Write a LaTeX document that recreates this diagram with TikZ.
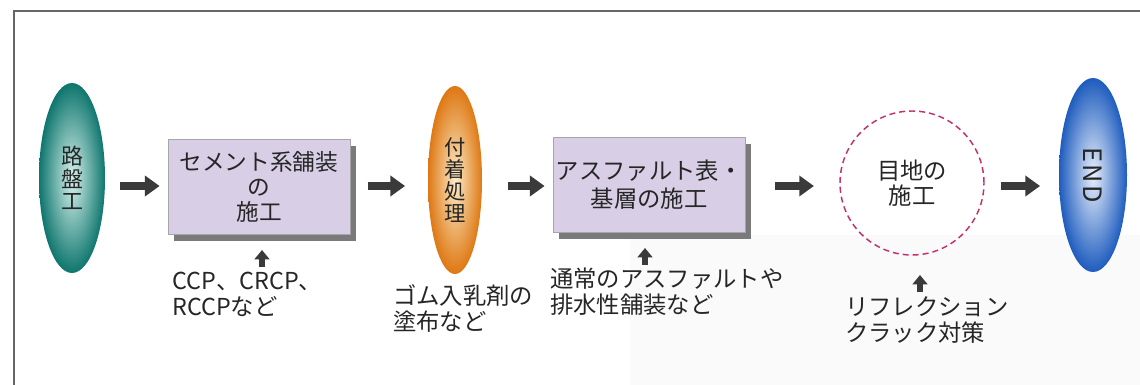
\documentclass[tikz,border=0pt]{standalone}
\usepackage{fontspec}
\setmainfont{Noto Sans CJK JP}
\usetikzlibrary{shapes.geometric,arrows.meta}
\definecolor{arrowgray}{HTML}{3A3A3A}
\definecolor{boxfill}{HTML}{D8CFE6}
\definecolor{boxshadow}{HTML}{7A7A7A}
\definecolor{dashpink}{HTML}{C2306E}
\tikzset{
  capsule/.style={ellipse, draw=none, inner sep=0pt, align=center, text=black!85},
  procbox/.style={rectangle, draw=gray!70, line width=0.6pt, fill=boxfill, align=center, inner sep=0pt, text=black!85},
  bigarrow/.style={draw=arrowgray, line width=6pt, -{Triangle[length=11pt,width=15pt]}},
  smallarrow/.style={draw=arrowgray, line width=4pt, -{Triangle[length=7pt,width=11pt]}},
  note/.style={align=left, inner sep=0pt, anchor=north west, font=\fontsize{17.5}{19.5}\selectfont, text=black!85},
}
\begin{document}
\begin{tikzpicture}[x=0.75pt,y=-0.75pt]
\useasboundingbox (0,0) rectangle (1140,385);
\fill[white] (0,0) rectangle (1140,385);
\fill[black!2] (630,235) rectangle (1140,385);
% frame
\draw[gray!80!black, line width=1.2pt] (14,385) -- (14,11) -- (1140,11);
% capsules
\node[capsule, minimum width=49.5pt, minimum height=142.5pt, shade, inner color={rgb,255:red,215;green,242;blue,236}, outer color={rgb,255:red,14;green,118;blue,110}, font=\fontsize{16.5}{17}\selectfont] (e1) at (72,178) {路\\盤\\工};
\node[capsule, minimum width=40.5pt, minimum height=141pt, shade, inner color={rgb,255:red,253;green,236;blue,200}, outer color={rgb,255:red,222;green,120;blue,20}, font=\fontsize{16}{16.5}\selectfont] (e2) at (455,180) {付\\着\\処\\理};
\node[capsule, minimum width=51pt, minimum height=145.5pt, shade, inner color={rgb,255:red,232;green,240;blue,252}, outer color={rgb,255:red,30;green,92;blue,190}] (e3) at (1093,175) {};
\node[rotate=-90, font=\fontsize{19}{19}\selectfont, text=black!85] (endtxt) at (e3.center) {E\kern2pt N\kern2pt D};
% boxes with shadows
\fill[boxshadow] (174,146) rectangle (356,241);
\node[procbox, minimum width=136.5pt, minimum height=71.25pt, font=\fontsize{17}{18.5}\selectfont] (b1) at (259,187) {セメント系舗装\\の\\施工};
\fill[boxshadow] (559,144) rectangle (751,239);
\node[procbox, minimum width=144pt, minimum height=71.25pt, font=\fontsize{17.5}{21}\selectfont] (b2) at (649,185) {アスファルト表・\\基層の施工};
% dashed circle
\node[circle, draw=dashpink, dashed, dash pattern=on 4.5pt off 3pt, line width=1.1pt, minimum size=108pt, align=center, inner sep=0pt, text=black!85, font=\fontsize{17.5}{19}\selectfont] (c1) at (912,183) {目地の\\施工};
% horizontal arrows
\draw[bigarrow, shorten <=11pt, shorten >=6pt] (e1.east |- 0,186) -- (b1.west |- 0,186);
\draw[bigarrow, shorten <=13pt, shorten >=17pt] (b1.east |- 0,186) -- (e2.west |- 0,186);
\draw[bigarrow, shorten <=19.5pt, shorten >=6pt] (e2.east |- 0,186) -- (b2.west |- 0,186);
\draw[bigarrow, shorten <=22.5pt, shorten >=19pt] (b2.east |- 0,186) -- (c1.west |- 0,186);
\draw[bigarrow, shorten <=12pt, shorten >=14pt] (c1.east |- 0,186) -- (e3.west |- 0,186);
% labels
\node[note] (l1) at (172,272) {CCP、CRCP、\\RCCPなど};
\node[note] (l2) at (393,284) {ゴム入乳剤の\\塗布など};
\node[note] (l3) at (550,268) {通常のアスファルトや\\排水性舗装など};
\node[note] (l4) at (845,296) {リフレクション\\クラック対策};
% up arrows
\coordinate (u1) at (262,267);
\coordinate (u2) at (645,265);
\coordinate (u4) at (920,292);
\draw[smallarrow] (u1) -- ++(0,-17);
\draw[smallarrow] (u2) -- ++(0,-17);
\draw[smallarrow] (u4) -- ++(0,-17);
\end{tikzpicture}
\end{document}
